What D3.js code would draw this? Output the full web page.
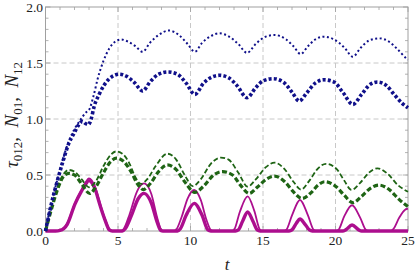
<!DOCTYPE html>
<html><head><meta charset="utf-8">
<script src="https://cdn.jsdelivr.net/npm/d3@7"></script>
<style>body{margin:0;background:#fff}svg{display:block}</style>
</head><body>
<svg id="c" width="415" height="274"></svg>
<script>
// Data: [t, value]
const blueThin = [[0,0],[0.4,0.25],[0.8,0.45],[1.2,0.64],[1.6,0.8],[2.0,0.91],[2.4,0.99],[2.8,1.06],[3.0,1.08],[3.3,1.2],[3.6,1.36],[4.0,1.52],[4.4,1.63],[4.8,1.69],[5.2,1.71],[5.7,1.69],[6.2,1.65],[6.7,1.6],[7.2,1.68],[7.8,1.75],[8.5,1.79],[9.2,1.75],[9.8,1.67],[10.3,1.6],[10.8,1.68],[11.4,1.74],[12.0,1.765],[12.6,1.74],[13.3,1.67],[13.9,1.59],[14.5,1.67],[15.1,1.73],[15.8,1.75],[16.6,1.71],[17.1,1.65],[17.6,1.58],[18.1,1.65],[18.6,1.71],[19.2,1.735],[19.9,1.71],[20.6,1.64],[21.2,1.556],[21.7,1.63],[22.3,1.7],[23.0,1.72],[23.7,1.69],[24.3,1.62],[24.9,1.54],[25,1.53]];
const blueThick = [[0,0],[0.4,0.24],[0.8,0.44],[1.2,0.62],[1.6,0.78],[2.0,0.88],[2.3,0.95],[2.55,0.98],[2.75,0.96],[2.95,0.95],[3.15,1.0],[3.35,1.11],[3.7,1.22],[4.03,1.3],[4.6,1.38],[5.1,1.4],[5.6,1.38],[6.1,1.33],[6.7,1.25],[7.2,1.33],[7.8,1.4],[8.45,1.42],[9.1,1.4],[9.7,1.32],[10.3,1.22],[10.9,1.32],[11.4,1.37],[12.0,1.39],[12.6,1.37],[13.2,1.3],[13.9,1.19],[14.5,1.28],[15.0,1.34],[15.7,1.36],[16.4,1.33],[17.0,1.24],[17.5,1.16],[18.0,1.23],[18.6,1.32],[19.2,1.35],[19.9,1.33],[20.5,1.24],[21.2,1.13],[21.8,1.22],[22.4,1.31],[22.9,1.33],[23.5,1.3],[24.1,1.21],[24.6,1.14],[25,1.1]];
const greenThin = [[0,0],[0.4,0.2],[0.8,0.38],[1.2,0.5],[1.62,0.545],[2.0,0.53],[2.5,0.46],[3.0,0.39],[3.5,0.45],[4.0,0.58],[4.5,0.68],[4.85,0.71],[5.3,0.69],[5.8,0.6],[6.2,0.48],[6.6,0.42],[7.0,0.46],[7.6,0.58],[8.4,0.69],[9.0,0.64],[9.6,0.5],[10.15,0.4],[10.7,0.46],[11.4,0.6],[12.1,0.655],[12.6,0.64],[13.3,0.52],[13.94,0.396],[14.5,0.46],[15.2,0.57],[15.8,0.61],[16.5,0.55],[17.1,0.44],[17.62,0.37],[18.2,0.45],[18.8,0.56],[19.35,0.6],[20.1,0.55],[20.6,0.45],[21.1,0.367],[21.7,0.43],[22.3,0.52],[22.9,0.56],[23.6,0.51],[24.3,0.41],[25,0.35]];
const greenThick = [[0,0],[0.4,0.19],[0.8,0.36],[1.2,0.48],[1.62,0.515],[2.0,0.5],[2.5,0.42],[3.05,0.335],[3.5,0.4],[4.0,0.52],[4.5,0.62],[4.9,0.65],[5.4,0.62],[5.9,0.53],[6.35,0.42],[6.75,0.37],[7.2,0.42],[7.8,0.53],[8.4,0.59],[9.0,0.55],[9.6,0.44],[10.3,0.345],[10.9,0.4],[11.6,0.5],[12.2,0.53],[12.9,0.5],[13.5,0.4],[14.05,0.335],[14.6,0.39],[15.2,0.46],[15.8,0.49],[16.5,0.44],[17.1,0.35],[17.7,0.29],[18.3,0.34],[18.8,0.41],[19.25,0.44],[20.0,0.4],[20.6,0.32],[21.2,0.253],[21.8,0.31],[22.4,0.38],[23.0,0.41],[23.7,0.37],[24.4,0.28],[25,0.217]];
const magThin = [[0,0],[0.7,0],[1.0,0.005],[1.5,0.07],[2.03,0.247],[2.5,0.37],[2.72,0.425],[3.0,0.47],[3.4,0.4],[3.76,0.247],[4.1,0.11],[4.45,0.01],[4.6,0],[5.2,0],[5.4,0.02],[5.8,0.15],[6.3,0.35],[6.8,0.425],[7.3,0.33],[7.7,0.12],[8.0,0.01],[8.2,0],[8.8,0],[9.0,0.01],[9.4,0.13],[9.8,0.29],[10.26,0.366],[10.7,0.28],[11.1,0.1],[11.4,0.01],[11.6,0],[12.8,0],[13.0,0.01],[13.4,0.17],[13.94,0.31],[14.4,0.18],[14.8,0.01],[15.0,0],[16.4,0],[16.6,0.01],[17.0,0.14],[17.55,0.277],[18.1,0.14],[18.5,0.01],[18.7,0],[20.0,0],[20.2,0.01],[20.6,0.13],[21.14,0.23],[21.7,0.12],[22.1,0.01],[22.3,0],[23.8,0],[24.0,0.02],[24.4,0.12],[24.8,0.19],[25,0.2]];
const magThick = [[0,0],[0.7,0],[1.0,0.005],[1.5,0.06],[2.03,0.24],[2.5,0.36],[2.75,0.415],[3.0,0.45],[3.4,0.38],[3.76,0.23],[4.1,0.1],[4.4,0.01],[4.6,0],[5.3,0],[5.5,0.02],[5.9,0.13],[6.4,0.29],[6.8,0.336],[7.3,0.25],[7.7,0.08],[7.95,0.005],[8.1,0],[9.1,0],[9.3,0.02],[9.7,0.14],[10.26,0.247],[10.8,0.14],[11.2,0.01],[11.4,0],[13.1,0],[13.3,0.01],[13.6,0.09],[13.94,0.17],[14.3,0.09],[14.6,0.01],[14.8,0],[16.8,0],[17.0,0.01],[17.3,0.07],[17.55,0.107],[17.9,0.06],[18.2,0.01],[18.4,0],[20.5,0],[20.7,0.01],[21.14,0.054],[21.6,0.01],[21.8,0],[25,0]];
const xTicks = [0,5,10,15,20,25];
const yTicks = [0,0.5,1,1.5,2];

const svg = d3.select('#c');
const L = 45.5, R = 408, T = 7, B = 231;
const x = d3.scaleLinear().domain([0,25]).range([L,R]);
const y = d3.scaleLinear().domain([0,2]).range([B,T]);

// grid
const g = svg.append('g');
g.selectAll('.gx').data([5,10,15,20]).enter().append('line')
 .attr('x1',d=>x(d)).attr('x2',d=>x(d)).attr('y1',T).attr('y2',B)
 .attr('stroke','#c8c8c8').attr('stroke-width',1).attr('stroke-dasharray','5,3');
g.selectAll('.gy').data([0.5,1,1.5]).enter().append('line')
 .attr('y1',d=>y(d)).attr('y2',d=>y(d)).attr('x1',L).attr('x2',R)
 .attr('stroke','#c8c8c8').attr('stroke-width',1).attr('stroke-dasharray','5,3');

// frame
svg.append('rect').attr('x',L).attr('y',T).attr('width',R-L).attr('height',B-T)
 .attr('fill','none').attr('stroke','#a0a0a0').attr('stroke-width',1);

// ticks (inward on all sides)
const minorX = d3.range(0,25.01,1), minorY = d3.range(0,2.001,0.1);
const tk = svg.append('g').attr('stroke','#a0a0a0').attr('stroke-width',0.8);
minorX.forEach(v=>{
  const major = Math.abs(v%5)<1e-6; const len = major?5:3;
  tk.append('line').attr('x1',x(v)).attr('x2',x(v)).attr('y1',B).attr('y2',B-len);
  tk.append('line').attr('x1',x(v)).attr('x2',x(v)).attr('y1',T).attr('y2',T+len);
});
minorY.forEach(v=>{
  const major = Math.abs((v*2)-Math.round(v*2))<1e-6; const len = major?5:3;
  tk.append('line').attr('y1',y(v)).attr('y2',y(v)).attr('x1',L).attr('x2',L+len);
  tk.append('line').attr('y1',y(v)).attr('y2',y(v)).attr('x1',R).attr('x2',R-len);
});

// tick labels
const font = '"Liberation Serif", "DejaVu Serif", serif';
svg.selectAll('.xl').data(xTicks).enter().append('text')
 .attr('x',d=>x(d)).attr('y',245).attr('text-anchor','middle')
 .attr('font-family',font).attr('font-size',13.5).attr('fill','#222').text(d=>d);
svg.selectAll('.yl').data(yTicks).enter().append('text')
 .attr('x',43).attr('y',d=>y(d)+4.5).attr('text-anchor','end')
 .attr('font-family',font).attr('font-size',13.5).attr('fill','#222').text(d=>d.toFixed(1));

// axis labels
svg.append('text').attr('x',227).attr('y',270).attr('text-anchor','middle')
 .attr('font-family',font).attr('font-style','italic').attr('font-size',17).attr('fill','#222').text('t');
const yl = svg.append('text').attr('transform','translate(18,115) rotate(-90)').attr('text-anchor','middle')
 .attr('font-family',font).attr('font-size',19).attr('fill','#222').attr('xml:space','preserve');
yl.append('tspan').attr('font-style','italic').text('τ');
yl.append('tspan').attr('font-size',13).attr('dy',3.5).text('012');
yl.append('tspan').attr('dy',-3.5).text(',  ');
yl.append('tspan').attr('font-style','italic').text('N');
yl.append('tspan').attr('font-size',13).attr('dy',3.5).text('01');
yl.append('tspan').attr('dy',-3.5).text(',  ');
yl.append('tspan').attr('font-style','italic').text('N');
yl.append('tspan').attr('font-size',13).attr('dy',3.5).text('12');

// curves
const line = d3.line().x(d=>x(d[0])).y(d=>y(d[1])).curve(d3.curveMonotoneX);
const series = [
  {d:magThick, c:'#ac0e8e', w:3.4, dash:null},
  {d:magThin, c:'#ac0e8e', w:1.8, dash:null},
  {d:greenThick, c:'#1e6414', w:3.2, dash:'5,2.5'},
  {d:greenThin, c:'#1e6414', w:1.8, dash:'5,2.5'},
  {d:blueThick, c:'#10108a', w:3.6, dash:'3,2.2'},
  {d:blueThin, c:'#10108a', w:2, dash:'2,2.5'}
];
series.forEach(s=>{
  const p = svg.append('path').datum(s.d).attr('d',line).attr('fill','none')
   .attr('stroke',s.c).attr('stroke-width',s.w).attr('stroke-linejoin','round');
  if (s.dash) p.attr('stroke-dasharray',s.dash);
});
</script>
</body></html>
